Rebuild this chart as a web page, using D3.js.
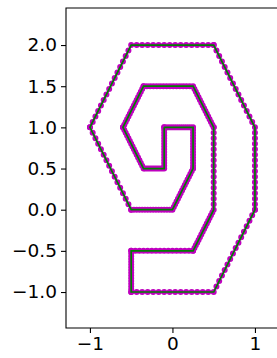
<!DOCTYPE html>
<head>
    <meta charset="utf-8">
    <script src="https://cdn.jsdelivr.net/npm/d3@7"></script>
</head>
<style>
body {
  margin: 0;
  font-family: "DejaVu Sans", sans-serif;
  background: #fff;
}
</style>
<body>
    <svg></svg>
</body>

<script>

    // Polygon corners (closed loop)
    var cornerX = [-0.1, -0.1, -0.35, -0.6, -0.35, 0.25, 0.5, 0.5, 0.25, -0.5, -0.5, 0.5, 1, 1, 0.5, -0.5, -1, -0.5, 0, 0.25, 0.25, -0.1];
    var cornerY = [1, 0.5, 0.5, 1, 1.5, 1.5, 1, 0, -0.5, -0.5, -1, -1, 0, 1, 2, 2, 1, 0, 0, 0.5, 1, 1];
    var dotsPerSide = 15;

    var xTicks = [-1, 0, 1];
    var yTicks = [-1.0, -0.5, 0.0, 0.5, 1.0, 1.5, 2.0];

    var width = 277;
    var height = 358;

    var svg = d3.select('svg')
        .attr('width', width)
        .attr('height', height);

    // same pixels per unit on both axes
    var x = d3.scaleLinear().domain([-1.29, 1.30]).range([66, 279.7]);
    var y = d3.scaleLinear().domain([-1.437, 2.45]).range([328, 8]);

    var corners = cornerX.map(function (d, i) { return [cornerX[i], cornerY[i]]; });
    var line = d3.line()
        .x(function (d) { return x(d[0]); })
        .y(function (d) { return y(d[1]); });

    // markers: one dotted stroke per side, dots spread evenly on each side
    var sides = d3.pairs(corners);
    var dots = svg.append('g');
    sides.forEach(function (s) {
        var p = dots.append('path')
            .attr('d', line(s))
            .attr('fill', 'none')
            .attr('stroke', '#bf00bf')
            .attr('stroke-width', 6)
            .attr('stroke-linecap', 'round');
        var len = p.node().getTotalLength();
        p.attr('stroke-dasharray', '0 ' + (len / dotsPerSide));
    });

    // green line drawn over the markers
    svg.append('path')
        .attr('d', line(corners))
        .attr('fill', 'none')
        .attr('stroke', '#008000')
        .attr('stroke-width', 1.7)
        .attr('stroke-linejoin', 'miter');

    // axes
    var xAxis = d3.axisBottom(x).tickValues(xTicks).tickSize(5).tickPadding(4)
        .tickFormat(function (d) { return d3.format('d')(d).replace('-', '\u2212'); });
    var yAxis = d3.axisLeft(y).tickValues(yTicks).tickSize(5).tickPadding(4)
        .tickFormat(function (d) { return d3.format('.1f')(d).replace('-', '\u2212'); });

    var gx = svg.append('g').attr('transform', 'translate(0,328)').call(xAxis);
    var gy = svg.append('g').attr('transform', 'translate(66,0)').call(yAxis);

    [gx, gy].forEach(function (g) {
        g.select('.domain').remove();
        g.selectAll('line').attr('stroke', '#000').attr('stroke-width', 1.1);
        g.selectAll('text').attr('fill', '#000')
            .style('font-family', '"DejaVu Sans", sans-serif')
            .style('font-size', '18.5px');
    });

    // spines (right one is outside the window)
    svg.append('path')
        .attr('d', 'M' + width + ',8H66V328H' + width)
        .attr('fill', 'none')
        .attr('stroke', '#000')
        .attr('stroke-width', 1.1);

</script>
